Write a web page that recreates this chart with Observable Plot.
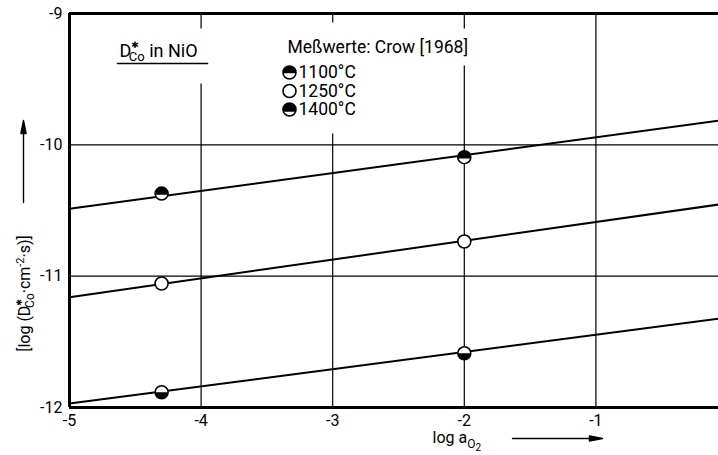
<!DOCTYPE html>
<html><head><meta charset="utf-8">
<script src="https://cdn.jsdelivr.net/npm/d3@7"></script>
<script src="https://cdn.jsdelivr.net/npm/@observablehq/plot@0.6"></script>
<style>
html,body{margin:0;padding:0;background:#fff;overflow:hidden;}
#chart svg{display:block;font-family:Roboto,"Liberation Sans",sans-serif;}
</style></head><body><div id="chart"></div>
<script>
// ---- data ----
const xTicks = [-5, -4, -3, -2, -1];
const yTicks = [-9, -10, -11, -12];
const xGrid = [-4, -3, -2, -1];
const yGrid = [-10, -11];
const series = ["1100°C", "1250°C", "1400°C"];
const lineX = [-5, 0];
const line1100 = [-11.97, -11.315];
const line1250 = [-11.16, -10.445];
const line1400 = [-10.487, -9.807];
const pointX = [-4.3, -2];
const pts1100 = [-11.884, -11.587];
const pts1250 = [-11.056, -10.736];
const pts1400 = [-10.371, -10.094];
const titleText = "D*Co in NiO";
const legendTitle = "Meßwerte: Crow [1968]";
const yLabel = "[log (D*Co·cm-2·s)]";
const xLabel = "log aO2";

// ---- tables ----
const lineVals = [line1100, line1250, line1400];
const ptVals = [pts1100, pts1250, pts1400];
const lines = series.flatMap((s, i) => lineX.map((x, j) => ({s, x, y: lineVals[i][j]})));
const points = series.flatMap((s, i) => pointX.map((x, j) => ({s, x, y: ptVals[i][j]})));

// filled cap of a circle: chord at y = c*r (positive = down)
function cap(c, side) {
  return {draw(ctx, size) {
    const r = Math.sqrt(size / Math.PI), a = Math.asin(c);
    if (side === "top") ctx.arc(0, 0, r, Math.PI - a, 2 * Math.PI + a);
    else ctx.arc(0, 0, r, a, Math.PI - a);
    ctx.closePath();
  }};
}
function arrowShape(head) {
  return {draw(ctx, l) {
    ctx.moveTo(0, 0); ctx.lineTo(0, -l);
    if (head) { ctx.moveTo(0, -l); ctx.lineTo(-2.6, -l + 13); ctx.lineTo(2.6, -l + 13); ctx.closePath(); }
  }};
}
const R = 6.5;
const plotCaps = {"1100°C": cap(0, "bottom"), "1400°C": cap(0.2, "top")};
const legendCaps = {"1100°C": cap(0.1, "top"), "1400°C": cap(0.35, "top")};

// title + legend texts
const annos = [
  {t: titleText, dx: 50, dy: 38, fs: 18},
  {t: legendTitle, dx: 218, dy: 34, fs: 17.5},
  ...series.map((s, i) => ({t: s, dx: 229, dy: 59 + i * 18.5, fs: 17.5}))
];
// white masks that break the gridlines behind title and legend (as in the original)
const gridGap = (v, dy, len) => Plot.vector([v], {x: d => d, frameAnchor: "top", dy, length: len, rotate: 180, anchor: "start", shape: arrowShape(false), stroke: "white", strokeWidth: 6, strokeLinecap: "butt"});

const marks = [
  Plot.ruleX(xGrid, {stroke: "black", strokeWidth: 1.2}),
  Plot.ruleY(yGrid, {stroke: "black", strokeWidth: 1.2}),
  gridGap(xGrid[0], 15, 55),
  gridGap(xGrid[1], 9, 111),
  gridGap(xGrid[2], 15, 37),
  ...annos.map(a => Plot.text([a.t], {text: d => d, frameAnchor: "top-left", dx: a.dx, dy: a.dy, textAnchor: "start", lineAnchor: "middle", fontSize: a.fs, fill: "black"})),
  Plot.vector([{}], {frameAnchor: "top-left", dx: 48, dy: 50, length: 90, rotate: 90, anchor: "start", shape: arrowShape(false), stroke: "black", strokeWidth: 1.6}),
  // frame
  Plot.ruleY([yTicks[0], yTicks[yTicks.length - 1]], {stroke: "black", strokeWidth: 3}),
  Plot.ruleX([xTicks[0]], {stroke: "black", strokeWidth: 3}),
  // regression lines
  Plot.line(lines, {x: "x", y: "y", z: "s", stroke: "black", strokeWidth: 2}),
  // points
  Plot.dot(points, {x: "x", y: "y", r: R, fill: "white", stroke: "black", strokeWidth: 1.6}),
  ...Object.keys(plotCaps).map(s => Plot.dot(points.filter(d => d.s === s), {x: "x", y: "y", r: R, symbol: plotCaps[s], fill: "black"})),
  // legend symbols
  ...series.map((s, i) => Plot.dot([{}], {frameAnchor: "top-left", dx: 220, dy: 59 + i * 18.5, r: R, fill: "white", stroke: "black", strokeWidth: 1.6})),
  ...series.filter(s => legendCaps[s]).map(s => Plot.dot([{}], {frameAnchor: "top-left", dx: 220, dy: 59 + series.indexOf(s) * 18.5, r: R, symbol: legendCaps[s], fill: "black"})),
  // axes
  Plot.axisY(yTicks, {tickSize: 0, tickPadding: 7, fontSize: 16, tickFormat: d => String(d), label: null}),
  Plot.axisX(xTicks, {tickSize: 0, tickPadding: 7, fontSize: 16, tickFormat: d => String(d), label: null}),
  // axis labels + arrows
  Plot.text([yLabel], {text: d => d, frameAnchor: "left", dx: -45, dy: 83, rotate: -90, textAnchor: "middle", lineAnchor: "middle", fontSize: 16, fill: "black"}),
  Plot.vector([{}], {frameAnchor: "left", dx: -46, dy: -8, length: 82, rotate: 0, anchor: "start", shape: arrowShape(true), stroke: "black", fill: "black", strokeWidth: 1.4}),
  Plot.text([xLabel], {text: d => d, frameAnchor: "bottom", dx: 34, dy: 30, textAnchor: "start", lineAnchor: "middle", fontSize: 16, fill: "black"}),
  Plot.vector([{}], {frameAnchor: "bottom", dx: 114, dy: 31, length: 90, rotate: 90, anchor: "start", shape: arrowShape(true), stroke: "black", fill: "black", strokeWidth: 1.4})
];

const chart = Plot.plot({
  width: 718, height: 455,
  marginLeft: 69, marginRight: -9, marginTop: 13, marginBottom: 48,
  x: {domain: [-5, 0], axis: null},
  y: {domain: [-12, -9], axis: null},
  style: {background: "white", color: "black", fontFamily: 'Roboto, "Liberation Sans", sans-serif'},
  marks
});

// rich text (sub/superscripts)
function rich(key, parts) {
  d3.select(chart).selectAll("text").filter(function () { return this.textContent === key; }).each(function () {
    const t = d3.select(this); t.text(null);
    for (const p of parts) {
      const ts = t.append("tspan").text(p.t);
      if (p.dx != null) ts.attr("dx", p.dx);
      if (p.dy != null) ts.attr("dy", p.dy);
      if (p.fs != null) ts.attr("font-size", p.fs);
      if (p.ff != null) ts.attr("font-family", p.ff);
    }
  });
}
const star = "✱";
rich(titleText, [{t: "D"}, {t: star, fs: 9, dy: -9, ff: "DejaVu Sans"}, {t: "Co", fs: 13, dx: -10, dy: 13}, {t: " in NiO", fs: 18, dy: -4}]);
rich(yLabel, [{t: "[log (D"}, {t: star, fs: 8, dy: -8, ff: "DejaVu Sans"}, {t: "Co", fs: 12, dx: -9, dy: 12}, {t: "·cm", fs: 16, dy: -4}, {t: "-2", fs: 11, dy: -6}, {t: "·s)]", fs: 16, dy: 6}]);
rich(xLabel, [{t: "log a"}, {t: "O", fs: 12, dy: 5}, {t: "2", fs: 10, dy: 3}]);

document.getElementById("chart").appendChild(chart);
</script></body></html>
